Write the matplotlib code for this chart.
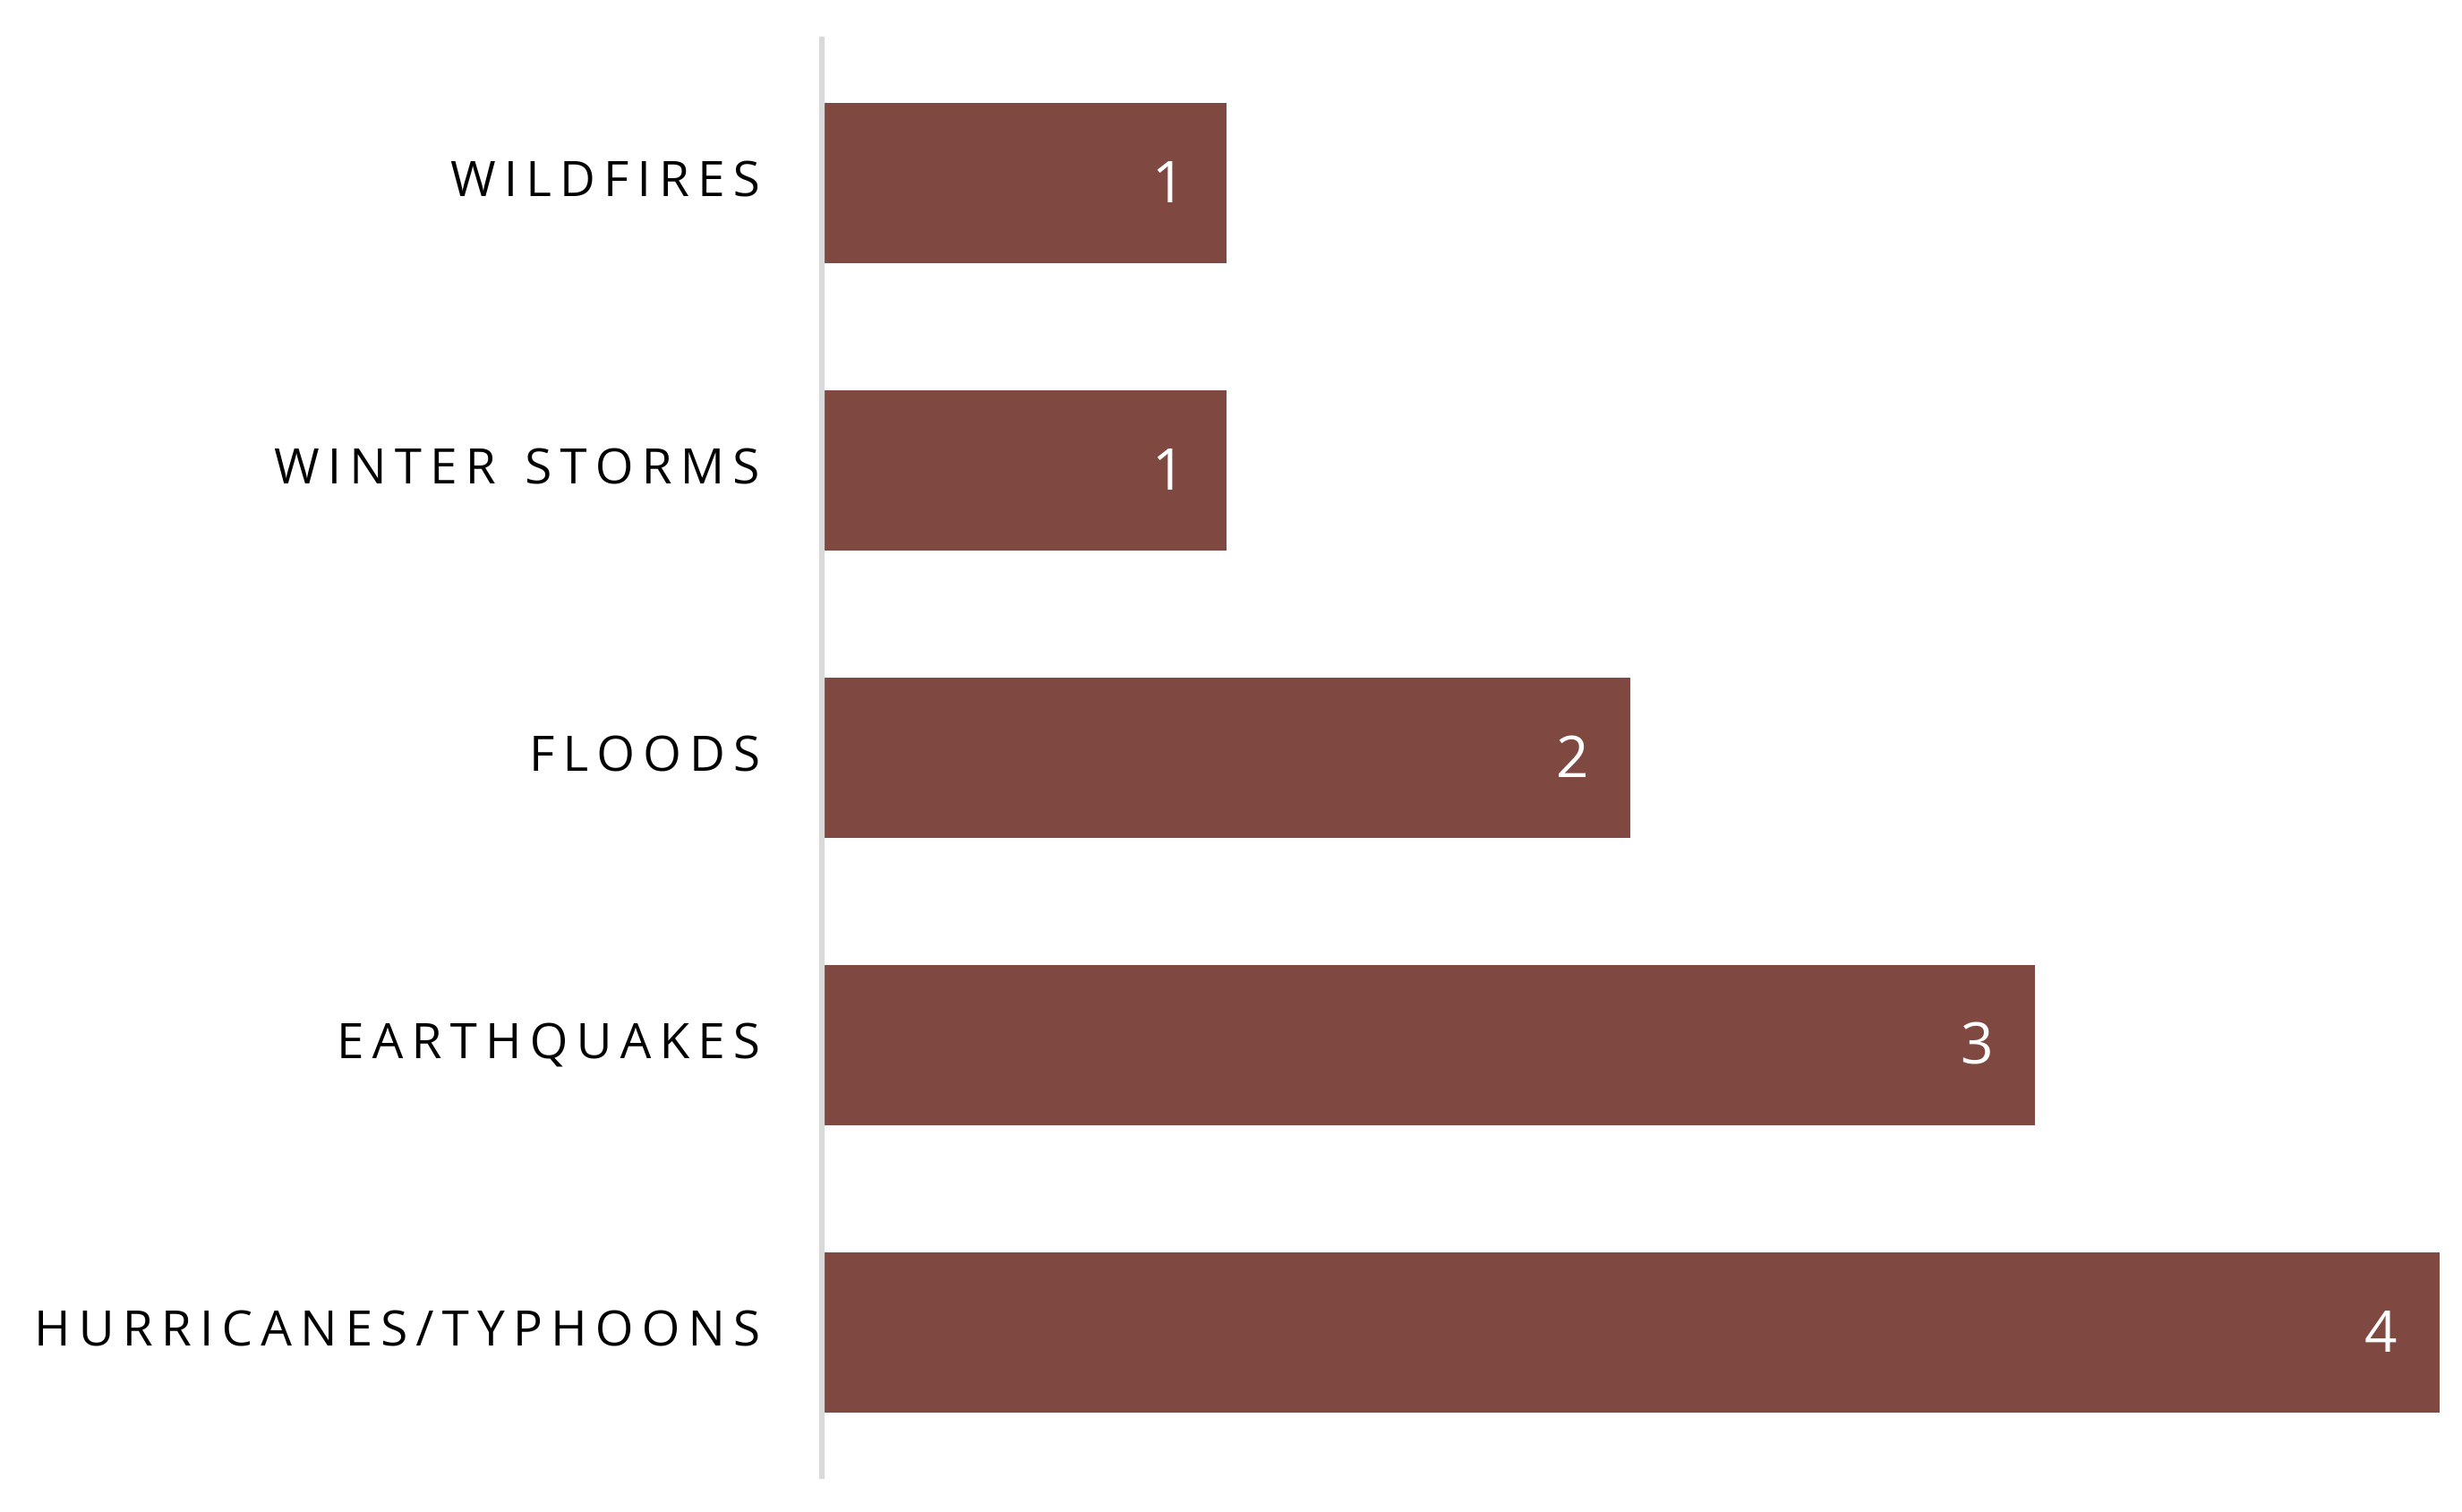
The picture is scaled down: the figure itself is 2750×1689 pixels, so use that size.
import matplotlib
matplotlib.use('Agg')
import matplotlib.pyplot as plt
import matplotlib.transforms as mtransforms

categories = ['HURRICANES/TYPHOONS', 'EARTHQUAKES', 'FLOODS', 'WINTER STORMS', 'WILDFIRES']
counts = [4, 3, 2, 1, 1]

BAR = '#7F4841'
SPINE = '#D9D9D9'


def spaced(s):
    # fake letter spacing with thin spaces
    return '\u2009'.join(s)


plt.rcParams['font.family'] = ['Open Sans', 'DejaVu Sans']

fig = plt.figure(figsize=(27.5, 16.89), dpi=100)
ax = fig.add_axes([0.3338, 0.0237, 0.657, 0.9503])

ys = list(range(len(categories)))
ax.barh(ys, counts, height=0.56, color=BAR)

for y, v in zip(ys, counts):
    ax.annotate(str(v), xy=(v, y), xytext=(-34, -3), textcoords='offset points',
                ha='right', va='center', color='white', fontsize=46)

ax.set_xlim(0, 4)
ax.set_ylim(-0.5, len(categories) - 0.5)
ax.set_yticks(ys)
ax.set_yticklabels([spaced(c) for c in categories], fontsize=39.5, color='black')
ax.tick_params(axis='y', length=0, pad=50)
ax.set_xticks([])

shift = mtransforms.ScaledTranslation(0, 4 / 72, fig.dpi_scale_trans)
for lbl in ax.get_yticklabels():
    lbl.set_transform(lbl.get_transform() + shift)

for side in ['top', 'right', 'bottom']:
    ax.spines[side].set_visible(False)
ax.spines['left'].set_color(SPINE)
ax.spines['left'].set_linewidth(4.5)

fig.savefig('out.png', dpi=100)
